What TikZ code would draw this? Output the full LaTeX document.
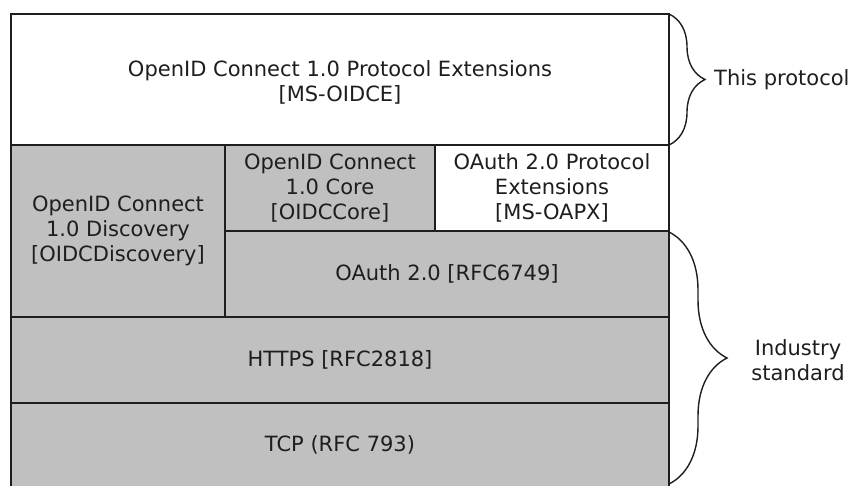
\documentclass[tikz,border=0pt]{standalone}
\usepackage{fontspec}
\setmainfont{DejaVu Sans}
\usetikzlibrary{decorations.pathreplacing}
\definecolor{boxgray}{RGB}{192,192,192}
\definecolor{inkc}{RGB}{30,30,30}
\begin{document}
\begin{tikzpicture}[x=1pt,y=-1pt,
  layer/.style={draw=inkc,line width=1.4pt},
  lbl/.style={align=center,font=\fontsize{21}{25}\selectfont,text=inkc,inner sep=0pt},
  brc/.style={draw=inkc,line width=1.4pt,decorate,decoration={brace,amplitude=#1}}]
\useasboundingbox (0,0) rectangle (853,485);
% boxes
\path[layer,fill=white] (11,14) rectangle (669,145);
\path[layer,fill=boxgray] (11,145) rectangle (225,317);
\path[layer,fill=boxgray] (225,145) rectangle (435,231);
\path[layer,fill=white] (435,145) rectangle (669,231);
\path[layer,fill=boxgray] (225,231) rectangle (669,317);
\path[layer,fill=boxgray] (11,317) rectangle (669,403);
\path[layer,fill=boxgray] (11,403) rectangle (669,492);
% labels
\node[lbl] (oidce) at (340,82) {OpenID Connect 1.0 Protocol Extensions\\{}[MS-OIDCE]};
\node[lbl] (disc) at (118,231) {OpenID Connect\\1.0 Discovery\\{}[OIDCDiscovery]};
\node[lbl] (core) at (330,188) {OpenID Connect\\1.0 Core\\{}[OIDCCore]};
\node[lbl] (oapx) at (552,188) {OAuth 2.0 Protocol\\Extensions\\{}[MS-OAPX]};
\node[lbl] (oauth) at (447,274) {OAuth 2.0 [RFC6749]};
\node[lbl] (https) at (340,360) {HTTPS [RFC2818]};
\node[lbl] (tcp) at (340,445) {TCP (RFC 793)};
% braces
\coordinate (b1t) at (669,14);
\coordinate (b1b) at (669,145);
\coordinate (b2t) at (669,232);
\coordinate (b2b) at (669,484);
\draw[brc=36pt] (b1t) -- (b1b);
\draw[brc=58pt] (b2t) -- (b2b);
\node[lbl,anchor=west] (thisp) at (714,80) {This protocol};
\node[lbl] (indus) at (798,360) {Industry\\standard};
\end{tikzpicture}
\end{document}
